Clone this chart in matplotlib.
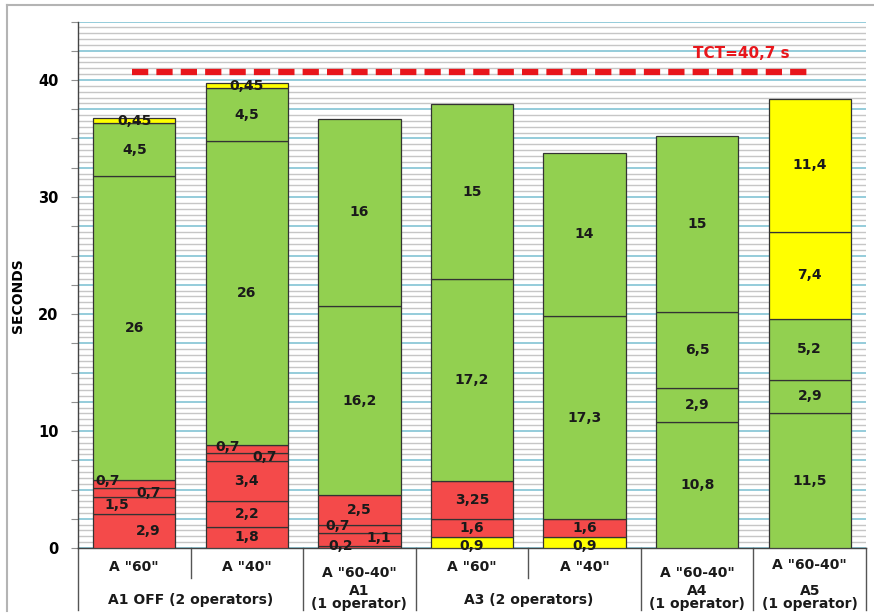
import numpy as np
import matplotlib.pyplot as plt
from matplotlib.lines import Line2D
from matplotlib.ticker import MultipleLocator, FuncFormatter

# variant under each bar, and the line(s) of layout info below it
variants = ['A "60"', 'A "40"', 'A "60-40"', 'A "60"', 'A "40"', 'A "60-40"', 'A "60-40"']
sub_labels = [None, None, 'A1\n(1 operator)', None, None, 'A4\n(1 operator)', 'A5\n(1 operator)']
groups = [('A1 OFF (2 operators)', 0, 1), ('A3 (2 operators)', 3, 4)]

# stacked times in seconds, bottom to top
seg_values = [
    [2.9, 1.5, 0.7, 0.7, 26, 4.5, 0.45],
    [1.8, 2.2, 3.4, 0.7, 0.7, 26, 4.5, 0.45],
    [0.2, 1.1, 0.7, 2.5, 16.2, 16],
    [0.9, 1.6, 3.25, 17.2, 15],
    [0.9, 1.6, 17.3, 14],
    [10.8, 2.9, 6.5, 15],
    [11.5, 2.9, 5.2, 7.4, 11.4],
]
# r = red, g = green, y = yellow
seg_kinds = ['rrrrggy', 'rrrrrggy', 'rrrrgg', 'yrrgg', 'yrgg', 'gggg', 'gggyy']
tct = 40.7

colors = {'r': '#f44a4a', 'g': '#92d050', 'y': '#ffff00'}
bar_w = 0.73

# thin segments get their label pushed sideways: (bar, seg) -> (dx as part of bar width, y)
label_pos = {
    (0, 0): (0.17, 1.45), (0, 1): (-0.21, 3.7), (0, 2): (0.17, 4.7), (0, 3): (-0.32, 5.75),
    (1, 3): (0.22, 7.8), (1, 4): (-0.24, 8.6),
    (2, 0): (-0.23, 0.17), (2, 1): (0.23, 0.85), (2, 2): (-0.27, 1.9),
    (3, 0): (0, 0.2), (4, 0): (0, 0.2),
}

plt.rcParams['font.family'] = 'DejaVu Sans'
fig = plt.figure(figsize=(8.74, 6.13), dpi=100)
ax = fig.add_axes([78 / 874, 65 / 613, 788 / 874, 526.5 / 613])

for i, (vals, kinds) in enumerate(zip(seg_values, seg_kinds)):
    bottom = 0
    for j, (v, k) in enumerate(zip(vals, kinds)):
        ax.bar(i, v, bottom=bottom, width=bar_w, color=colors[k],
               edgecolor='#333333', linewidth=0.9, zorder=3)
        dx, y = label_pos.get((i, j), (0, bottom + v / 2))
        ax.text(i + dx * bar_w, y, f'{v:g}'.replace('.', ','), ha='center', va='center',
                fontsize=10, fontweight='bold', color='#1a1a1a', zorder=5)
        bottom += v

# takt time line
ax.plot([-0.02, 6.0], [tct, tct], color='#e8161c', lw=4.5, ls=(0, (2.6, 1.3)),
        dash_capstyle='butt', zorder=4)
ax.text(5.39, 42.3, f'TCT={tct:g} s'.replace('.', ','), color='#e8161c', fontsize=11,
        fontweight='bold', ha='center', va='center', zorder=5)

ax.set_xlim(-0.5, 6.5)
ax.set_ylim(0, 45)
ax.set_xticks([])
ax.yaxis.set_major_locator(MultipleLocator(2.5))
ax.yaxis.set_minor_locator(MultipleLocator(0.5))
ax.yaxis.set_major_formatter(FuncFormatter(lambda v, p: f'{v:.0f}' if abs(v % 10) < 1e-6 else ''))
ax.tick_params(axis='y', which='major', length=5, color='#909090', pad=9, labelsize=10.5)
ax.tick_params(axis='y', which='minor', length=0)
for lab in ax.get_yticklabels():
    lab.set_fontweight('bold')
ax.grid(which='minor', axis='y', color='#c6c6c6', lw=1.0)
ax.grid(which='major', axis='y', color='#8cc8d8', lw=1.3)
ax.set_axisbelow(True)

ax.set_ylabel('SECONDS', fontsize=10, fontweight='bold')
ax.yaxis.set_label_coords(-0.067, 0.48)

for s in ['top', 'right']:
    ax.spines[s].set_visible(False)
for s in ['left', 'bottom']:
    ax.spines[s].set_color('#444444')
    ax.spines[s].set_linewidth(1.0)

# category table under the bars
xt = ax.get_xaxis_transform()
for x in [-0.5, 1.5, 2.5, 4.5, 5.5, 6.5]:
    ax.plot([x, x], [0, -0.117], color='#555555', lw=1.0, transform=xt, clip_on=False)
for x in [0.5, 3.5]:
    ax.plot([x, x], [0, -0.057], color='#555555', lw=1.0, transform=xt, clip_on=False)

for i, (name, sub) in enumerate(zip(variants, sub_labels)):
    if sub is None:
        ax.text(i, -0.036, name, transform=xt, ha='center', va='center',
                fontsize=10, fontweight='bold', color='#1a1a1a')
    else:
        top_y = -0.032 if i == 6 else -0.0475
        ax.text(i, top_y, name, transform=xt, ha='center', va='center',
                fontsize=10, fontweight='bold', color='#1a1a1a')
        ax.text(i, -0.094, sub, transform=xt, ha='center', va='center',
                fontsize=10, fontweight='bold', color='#1a1a1a', linespacing=0.95)
for name, a, b in groups:
    ax.text((a + b) / 2, -0.099, name, transform=xt, ha='center', va='center',
            fontsize=10, fontweight='bold', color='#1a1a1a')

# light outer frame of the chart area
fig.add_artist(Line2D([7 / 874, 7 / 874], [1 - 5 / 613, 0.003], color='#b4b4b4', lw=1.5))
fig.add_artist(Line2D([7 / 874, 1.0], [1 - 5 / 613, 1 - 5 / 613], color='#b4b4b4', lw=1.5))

fig.savefig('out.png', dpi=100)
